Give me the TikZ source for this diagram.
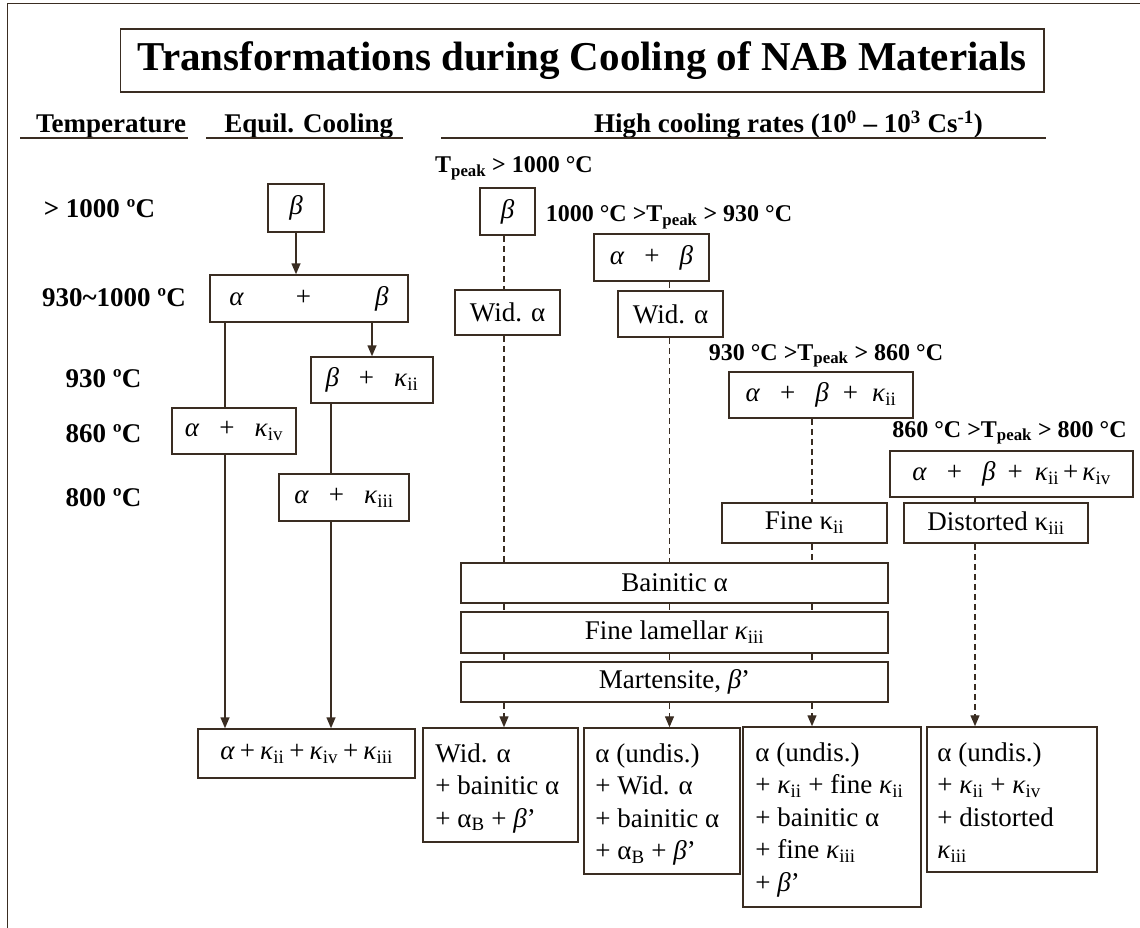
\documentclass[tikz,border=0pt]{standalone}
\usepackage{fontspec}
\setmainfont{Liberation Serif}
\usetikzlibrary{arrows.meta, positioning, calc}
\definecolor{lc}{RGB}{58,45,34}
\newcommand{\ttlfont}{\fontsize{41}{45}\selectfont\bfseries}
\newcommand{\hdfont}{\fontsize{27}{32}\selectfont\bfseries}
\newcommand{\tpfont}{\fontsize{24}{28}\selectfont\bfseries}
\newcommand{\boxfont}{\fontsize{27}{32.5}\selectfont}
\newcommand{\aph}{\textit{α}}
\newcommand{\bta}{\textit{β}}
\newcommand{\kpa}[1]{\textit{κ}\textsubscript{#1}}
\newcommand{\kup}[1]{κ\textsubscript{#1}}
\newcommand{\pgap}{\hspace{20pt}}
\tikzstyle{box} = [draw=lc, line width=1.5pt, inner sep=0pt, font=\boxfont]
\tikzstyle{txt} = [inner sep=0pt, align=left, font=\boxfont]
\tikzstyle{hd} = [inner sep=0pt, font=\hdfont]
\tikzstyle{tp} = [inner sep=0pt, font=\tpfont]
\tikzstyle{line} = [draw=lc, line width=1.5pt]
\tikzstyle{dline} = [draw=lc, line width=1.4pt, dash pattern=on 6pt off 4pt]
\tikzstyle{arrow} = [line, -{Triangle[length=11pt,width=9pt]}]
\tikzstyle{darrow} = [dline, -{Triangle[length=11pt,width=9pt]}]

\begin{document}
\begin{tikzpicture}[x=1pt, y=-1pt]
  \useasboundingbox (0,0) rectangle (1140,928);
  \draw[line] (7.7,928) |- (1140,3.3);

  % title and headings
  \node[box, font=\ttlfont, minimum width=923.5pt, minimum height=63pt] (title) at (582.3,60.5)
    {Transformations during Cooling of NAB Materials};
  \node[hd, anchor=base] (temp) at (111,132.7) {Temperature};
  \node[hd, anchor=base] (equil) at (308.7,132.7) {Equil. Cooling};
  \node[hd, anchor=base] (high) at (788.5,133) {High cooling rates (10\textsuperscript{0} – 10\textsuperscript{3} Cs\textsuperscript{-1})};
  \draw[line] (20,138) -- (187.5,138);
  \draw[line] (206,138) -- (403,138);
  \draw[line] (441,138) -- (1046,138);

  % temperatures
  \node[hd, anchor=base] (t1) at (99.5,218) {> 1000 ºC};
  \node[hd, anchor=base] (t2) at (114,306) {930\textasciitilde 1000 ºC};
  \node[hd, anchor=base] (t3) at (103.5,387) {930 ºC};
  \node[hd, anchor=base] (t4) at (103.5,442) {860 ºC};
  \node[hd, anchor=base] (t5) at (103.5,506) {800 ºC};

  % equilibrium cooling
  \node[box, minimum width=56pt, minimum height=48pt] (eb) at (296,208) {\bta};
  \node[box, minimum width=198pt, minimum height=47pt] (eab) at (309,298.5) {\aph\hspace{52pt}+\hspace{64pt}\bta};
  \node[box, minimum width=122pt, minimum height=46pt] (ebk) at (372,380) {\bta\pgap+\pgap\kpa{ii}};
  \node[box, minimum width=124pt, minimum height=46pt] (eak4) at (234,431) {\aph\pgap+\pgap\kpa{iv}};
  \node[box, minimum width=130pt, minimum height=47pt] (eak3) at (344,497.5) {\aph\pgap+\pgap\kpa{iii}};
  \node[box, minimum width=217pt, minimum height=49pt] (efin) at (306.5,753.5)
    {\aph\hspace{5pt}+\hspace{5pt}\kpa{ii}\hspace{5pt}+\hspace{5pt}\kpa{iv}\hspace{5pt}+\hspace{5pt}\kpa{iii}};

  \coordinate (xl) at (225,0);
  \coordinate (xr) at (331,0);
  \draw[arrow] (eb.south) -- (eb.south |- eab.north);
  \draw[arrow] (eab.south -| ebk.north) -- (ebk.north);
  \draw[line] (eab.south -| xl) -- (eak4.north -| xl);
  \draw[arrow] (eak4.south -| xl) -- (efin.north -| xl);
  \draw[line] (ebk.south -| xr) -- (eak3.north -| xr);
  \draw[arrow] (eak3.south -| xr) -- (efin.north -| xr);

  % high cooling rates
  \node[tp, anchor=base] (tp1) at (514,173) {T\textsubscript{peak} > 1000 °C};
  \node[tp, anchor=base] (tp2) at (669,222) {1000 °C >T\textsubscript{peak} > 930 °C};
  \node[tp, anchor=base] (tp3) at (826,360) {930 °C >T\textsubscript{peak} > 860 °C};
  \node[tp, anchor=base] (tp4) at (1009.5,437) {860 °C >T\textsubscript{peak} > 800 °C};

  \node[box, minimum width=55pt, minimum height=47pt] (rb) at (507.5,211.5) {\bta};
  \node[box, minimum width=115pt, minimum height=47pt] (rab) at (651.5,257.5) {\aph\pgap+\pgap\bta};
  \node[box, minimum width=105pt, minimum height=45pt] (wid1) at (507.5,312.5) {Wid. α};
  \node[box, minimum width=105pt, minimum height=46pt] (wid2) at (670.5,314) {Wid. α};
  \node[box, minimum width=184pt, minimum height=46pt] (rabk) at (821,395)
    {\aph\pgap+\pgap\bta\hspace{14pt}+\hspace{14pt}\kpa{ii}};
  \node[box, minimum width=243pt, minimum height=46pt] (rabkk) at (1011.5,474)
    {\aph\pgap+\pgap\bta\hspace{12pt}+\hspace{12pt}\kpa{ii}\hspace{4pt}+\hspace{4pt}\kpa{iv}};
  \node[box, minimum width=165pt, minimum height=40pt] (finek) at (804.5,523) {Fine \kup{ii}};
  \node[box, minimum width=184pt, minimum height=40pt] (distk) at (996,523) {Distorted \kup{iii}};
  \node[box, minimum width=427pt, minimum height=40pt] (bain) at (674.5,583) {Bainitic α};
  \node[box, minimum width=427pt, minimum height=41pt] (lam) at (674.5,632.5) {Fine lamellar \kpa{iii}};
  \node[box, minimum width=427pt, minimum height=40pt] (mart) at (674.5,682) {Martensite, \bta’};

  \node[box, minimum width=155pt, minimum height=114pt] (r1) at (500.5,785) {};
  \node[box, minimum width=156pt, minimum height=146pt] (r2) at (662,801) {};
  \node[box, minimum width=178pt, minimum height=180pt] (r3) at (832,817) {};
  \node[box, minimum width=170pt, minimum height=145pt] (r4) at (1012,799.5) {};
  \node[txt, anchor=north west] (r1t) at ([xshift=13pt,yshift=-16pt]r1.north west)
    {Wid. α\\+ bainitic α\\+ α\textsubscript{B} + \bta’};
  \node[txt, anchor=north west] (r2t) at ([xshift=12pt,yshift=-16pt]r2.north west)
    {α (undis.)\\+ Wid. α\\+ bainitic α\\+ α\textsubscript{B} + \bta’};
  \node[txt, anchor=north west] (r3t) at ([xshift=13pt,yshift=-16pt]r3.north west)
    {α (undis.)\\+ \kpa{ii} + fine \kpa{ii}\\+ bainitic α\\+ fine \kpa{iii}\\+ \bta’};
  \node[txt, anchor=north west] (r4t) at ([xshift=11pt,yshift=-16pt]r4.north west)
    {α (undis.)\\+ \kpa{ii} + \kpa{iv}\\+ distorted\\\kpa{iii}};

  \coordinate (c1) at (504,0);
  \coordinate (c2) at (669.5,0);
  \coordinate (c3) at (812,0);
  \coordinate (c4) at (975,0);
  \draw[dline] (rb.south -| c1) -- (wid1.north -| c1);
  \draw[dline] (wid1.south -| c1) -- (bain.north -| c1);
  \draw[dline] (rab.south -| c2) -- (wid2.north -| c2);
  \draw[dline] (wid2.south -| c2) -- (bain.north -| c2);
  \draw[dline] (rabk.south -| c3) -- (finek.north -| c3);
  \draw[dline] (finek.south -| c3) -- (bain.north -| c3);
  \foreach \c/\r in {c1/r1, c2/r2, c3/r3} {
    \draw[dline] (bain.south -| \c) -- (lam.north -| \c);
    \draw[dline] (lam.south -| \c) -- (mart.north -| \c);
    \draw[darrow] (mart.south -| \c) -- (\r.north -| \c);
  }
  \draw[line] (rabkk.south -| c4) -- (distk.north -| c4);
  \draw[darrow] (distk.south -| c4) -- (r4.north -| c4);
\end{tikzpicture}
\end{document}
